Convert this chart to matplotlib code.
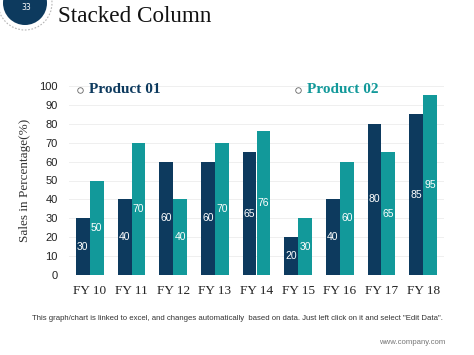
import matplotlib
matplotlib.use('Agg')
import matplotlib.pyplot as plt
from matplotlib.patches import Circle
import numpy as np

# chart data
years = ["FY 10", "FY 11", "FY 12", "FY 13", "FY 14", "FY 15", "FY 16", "FY 17", "FY 18"]
product_01 = [30, 40, 60, 60, 65, 20, 40, 80, 85]
product_02 = [50, 70, 40, 70, 76, 30, 60, 65, 95]
y_ticks = [0, 10, 20, 30, 40, 50, 60, 70, 80, 90, 100]

navy = "#0d3a5e"
teal = "#12999a"

fig = plt.figure(figsize=(4.74, 3.55), dpi=100)
fig.patch.set_facecolor("white")

# slide number badge + page texts
badge = fig.add_axes([0, 0, 1, 1], zorder=0)
badge.set_xlim(0, 474)
badge.set_ylim(355, 0)
badge.axis("off")
badge.add_patch(Circle((25, 3), 27, facecolor="none", edgecolor="#b5b5b5",
                       linestyle=(0, (1.5, 1.5)), linewidth=0.8))
badge.add_patch(Circle((25, 3), 22, facecolor="#0d3a5e", edgecolor="none"))
badge.text(26, 8, "33", color="white", fontsize=5.5, ha="center", va="center")
badge.text(58, 16, "Stacked Column", fontsize=16.7, family="Liberation Serif",
           ha="left", va="center", color="#111111")
badge.text(237, 318, 'This graph/chart is linked to excel, and changes automatically  based on data. Just left click on it and select "Edit Data".',
           fontsize=5.6, ha="center", va="center", color="#333333", family="Liberation Sans")
badge.text(445, 342, "www.company.com", fontsize=5.6, ha="right", va="center",
           color="#777777", family="Liberation Sans")

ax = fig.add_axes([69 / 474, 80 / 355, 375 / 474, 189 / 355], zorder=1)
ax.set_facecolor("none")

x = np.arange(len(years))
w = 0.335
b1 = ax.bar(x - w / 2, product_01, w, color=navy, zorder=2)
b2 = ax.bar(x + w / 2, product_02, w, color=teal, zorder=2)

for bars, vals in ((b1, product_01), (b2, product_02)):
    for rect, v in zip(bars, vals):
        ax.text(rect.get_x() + rect.get_width() / 2, v / 2, str(v), color="white",
                fontsize=7.5, ha="center", va="center", family="Liberation Sans", zorder=3)

ax.set_xlim(-0.5, len(years) - 0.5)
ax.set_ylim(0, 100)
ax.set_yticks(y_ticks)
ax.set_yticklabels([str(t) for t in y_ticks], family="Liberation Sans", fontsize=8, color="#222222")
ax.set_xticks(x)
ax.set_xticklabels(years, family="Liberation Serif", fontsize=9.5, color="#222222")
ax.tick_params(axis="both", length=0)
ax.tick_params(axis="y", pad=8)
ax.tick_params(axis="x", pad=7)
ax.yaxis.grid(True, color="#efefef", linewidth=0.7, zorder=0)
for s in ax.spines.values():
    s.set_visible(False)

ax.set_ylabel("Sales in Percentage(%)", family="Liberation Serif", fontsize=9.5,
              color="#333333", labelpad=6)

# legend as text labels
ax.plot([-0.24], [98], marker="o", markersize=4, markerfacecolor="white",
        markeredgecolor="#666666", markeredgewidth=0.6, clip_on=False)
ax.text(-0.03, 98, "Product 01", color=navy, fontsize=11, fontweight="bold",
        family="Liberation Serif", ha="left", va="center")
ax.plot([5.0], [98], marker="o", markersize=4, markerfacecolor="white",
        markeredgecolor="#666666", markeredgewidth=0.6, clip_on=False)
ax.text(5.22, 98, "Product 02", color=teal, fontsize=11, fontweight="bold",
        family="Liberation Serif", ha="left", va="center")

fig.savefig("out.png", dpi=100)
